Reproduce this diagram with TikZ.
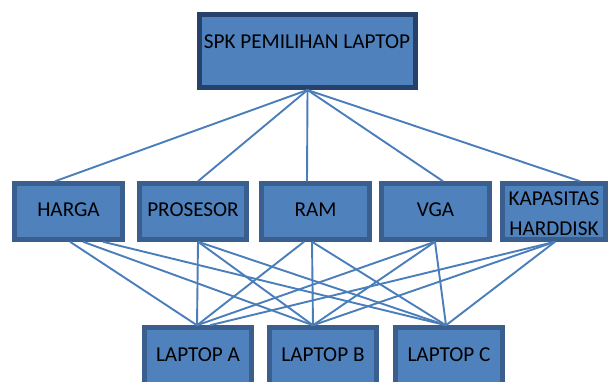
\documentclass[tikz,border=0pt]{standalone}
\usepackage{fontspec}
\setmainfont{Carlito}
\definecolor{boxfill}{HTML}{4F81BD}
\definecolor{boxedge}{HTML}{3A5F8E}
\definecolor{topedge}{HTML}{27426A}
\definecolor{wire}{HTML}{4A7EBB}
\tikzset{
  box/.style={draw=boxedge, fill=boxfill, line width=4.5pt, inner sep=0pt, rectangle},
  topbox/.style={box, draw=topedge, line width=5pt},
  lbl/.style={font=\fontsize{21.2}{30}\selectfont, text=black, inner sep=0pt, align=center},
  wirec/.style={draw=wire, line width=1.9pt}
}
\begin{document}
\begin{tikzpicture}[x=1pt,y=-1pt]
\useasboundingbox (0,0) rectangle (610,381);
\clip (0,0) rectangle (610,381);
% top box
\node[topbox, minimum width=216pt, minimum height=73pt] (top) at (307.5,51) {};
\node[lbl] (toptext) at (307,42) {SPK PEMILIHAN LAPTOP};
% criteria
\node[box, minimum width=108pt, minimum height=56pt] (harga) at (68.5,211.5) {};
\node[lbl] at ([yshift=2pt]harga.center) {HARGA};
\node[box, minimum width=107pt, minimum height=56pt] (pros) at (193,211.5) {};
\node[lbl] at ([yshift=2pt]pros.center) {PROSESOR};
\node[box, minimum width=108pt, minimum height=56pt] (ram) at (315.5,211.5) {};
\node[lbl] at ([yshift=2pt]ram.center) {RAM};
\node[box, minimum width=108pt, minimum height=56pt] (vga) at (435.5,211.5) {};
\node[lbl] at ([yshift=2pt]vga.center) {VGA};
\node[box, minimum width=103pt, minimum height=56pt] (kap) at (554,211.5) {};
\node[lbl] at ([yshift=-2pt]kap.center) {KAPASITAS\\HARDDISK};
% alternatives
\node[box, minimum width=107pt, minimum height=58.5pt] (la) at (198,356.75) {};
\node[lbl] at (198,355) {LAPTOP A};
\node[box, minimum width=107pt, minimum height=58.5pt] (lb) at (323,356.75) {};
\node[lbl] at (323,355) {LAPTOP B};
\node[box, minimum width=107pt, minimum height=58.5pt] (lc) at (449,356.75) {};
\node[lbl] at (449,355) {LAPTOP C};
% top to criteria
\draw[wirec] (top.south) -- ([xshift=-13.5pt]harga.north);
\draw[wirec] (top.south) -- ([xshift=5pt]pros.north);
\draw[wirec] (top.south) -- ([xshift=-8.5pt]ram.north);
\draw[wirec] (top.south) -- ([xshift=7.5pt]vga.north);
\draw[wirec] (top.south) -- ([xshift=26pt]kap.north);
% criteria to alternatives
\draw[wirec] ([xshift=1.5pt]harga.south) -- ([xshift=-1pt]la.north);
\draw[wirec] ([xshift=14.5pt]harga.south) -- ([xshift=-10pt]lb.north);
\draw[wirec] ([xshift=34.5pt]harga.south) -- ([xshift=-3pt]lc.north);
\draw[wirec] ([xshift=5pt]pros.south) -- ([xshift=-1pt]la.north);
\draw[wirec] ([xshift=5pt]pros.south) -- ([xshift=-10pt]lb.north);
\draw[wirec] ([xshift=5pt]pros.south) -- ([xshift=-3pt]lc.north);
\draw[wirec] ([xshift=-11.5pt]ram.south) -- ([xshift=-1pt]la.north);
\draw[wirec] ([xshift=-3.5pt]ram.south) -- ([xshift=-10pt]lb.north);
\draw[wirec] ([xshift=-3.5pt]ram.south) -- ([xshift=-3pt]lc.north);
\draw[wirec] ([xshift=-0.5pt]vga.south) -- ([xshift=-1pt]la.north);
\draw[wirec] ([xshift=-0.5pt]vga.south) -- ([xshift=-10pt]lb.north);
\draw[wirec] ([xshift=-0.5pt]vga.south) -- ([xshift=-3pt]lc.north);
\draw[wirec] ([xshift=1pt]kap.south) -- ([xshift=12pt]la.north);
\draw[wirec] ([xshift=1pt]kap.south) -- ([xshift=-10pt]lb.north);
\draw[wirec] ([xshift=1pt]kap.south) -- ([xshift=-3pt]lc.north);
\end{tikzpicture}
\end{document}
